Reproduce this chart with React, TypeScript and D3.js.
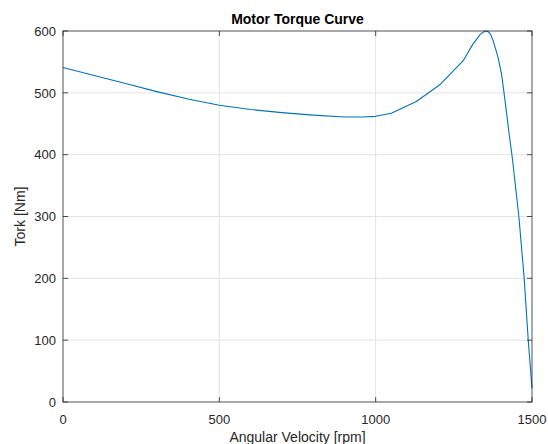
import React from "react";
import * as d3 from "d3";

const speedRpm = [0, 100, 200, 300, 400, 500, 600, 700, 800, 900, 960, 1000, 1050, 1130, 1205, 1280, 1310, 1335, 1350, 1360, 1368, 1376, 1392, 1403, 1410, 1418, 1427, 1437, 1458, 1475, 1488, 1500];
const torqueNm = [541, 528, 515, 502, 490, 480, 473, 468, 464, 461, 461, 462, 467, 486, 513, 552, 578, 595, 600, 599, 594, 584, 556, 529, 502, 470, 433, 395, 300, 200, 100, 22];
const xTicks = [0, 500, 1000, 1500];
const yTicks = [0, 100, 200, 300, 400, 500, 600];

const W = 548, H = 444;
const L = 63, R = 532, T = 31, B = 402;

export default function App() {
  const x = d3.scaleLinear().domain([0, 1500]).range([L, R]);
  const y = d3.scaleLinear().domain([0, 600]).range([B, T]);
  const line = d3.line<number>()
    .x((_, i) => x(speedRpm[i]))
    .y((d) => y(d))
    .curve(d3.curveLinear);
  const axisColor = "#262626";
  const gridColor = "#e3e3e3";
  const font = "'Liberation Sans', Arial, Helvetica, sans-serif";
  const tk = 5;
  return (
    <svg width={W} height={H} style={{ position: "absolute", left: 0, top: 0, background: "#fff" }}>
      <rect x={0} y={0} width={W} height={H} fill="#fff" />
      {xTicks.slice(1, -1).map((t) => (
        <line key={"gx" + t} x1={x(t)} x2={x(t)} y1={T} y2={B} stroke={gridColor} strokeWidth={1} />
      ))}
      {yTicks.slice(1, -1).map((t) => (
        <line key={"gy" + t} x1={L} x2={R} y1={y(t)} y2={y(t)} stroke={gridColor} strokeWidth={1} />
      ))}
      <path d={line(torqueNm) || ""} fill="none" stroke="#0072BD" strokeWidth={1.1} strokeLinejoin="round" />
      <rect x={L} y={T} width={R - L} height={B - T} fill="none" stroke={axisColor} strokeWidth={0.8} />
      {xTicks.map((t) => (
        <g key={"tx" + t}>
          <line x1={x(t)} x2={x(t)} y1={B} y2={B - tk} stroke={axisColor} strokeWidth={0.8} />
          <line x1={x(t)} x2={x(t)} y1={T} y2={T + tk} stroke={axisColor} strokeWidth={0.8} />
          <text x={x(t)} y={424} textAnchor="middle" fontFamily={font} fontSize={13} fill={axisColor}>{t}</text>
        </g>
      ))}
      {yTicks.map((t) => (
        <g key={"ty" + t}>
          <line x1={L} x2={L + tk} y1={y(t)} y2={y(t)} stroke={axisColor} strokeWidth={0.8} />
          <line x1={R} x2={R - tk} y1={y(t)} y2={y(t)} stroke={axisColor} strokeWidth={0.8} />
          <text x={56} y={y(t)} dy="0.36em" textAnchor="end" fontFamily={font} fontSize={13} fill={axisColor}>{t}</text>
        </g>
      ))}
      <text x={(L + R) / 2} y={24} textAnchor="middle" fontFamily={font} fontSize={14} fontWeight="bold" fill="#000">Motor Torque Curve</text>
      <text x={(L + R) / 2} y={442} textAnchor="middle" fontFamily={font} fontSize={14} fill={axisColor}>Angular Velocity [rpm]</text>
      <text transform={`translate(25,${(T + B) / 2}) rotate(-90)`} textAnchor="middle" fontFamily={font} fontSize={14} fill={axisColor}>Tork [Nm]</text>
    </svg>
  );
}
